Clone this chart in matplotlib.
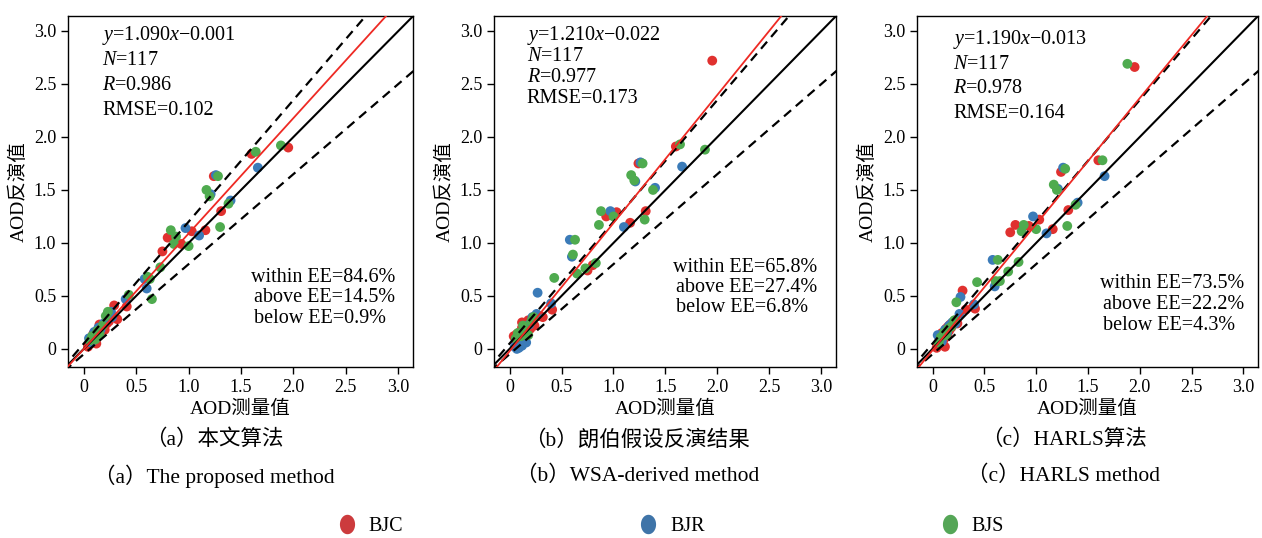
import matplotlib
matplotlib.use("Agg")
import matplotlib.pyplot as plt
from matplotlib.lines import Line2D
import numpy as np

plt.rcParams["font.family"] = ["Liberation Serif", "Noto Sans CJK SC"]
plt.rcParams["mathtext.fontset"] = "custom"
plt.rcParams["mathtext.rm"] = "Liberation Serif"
plt.rcParams["mathtext.it"] = "Liberation Serif:italic"

SITES = ["BJC", "BJR", "BJS"]
COLORS = ["#e0312f", "#3b7bb8", "#4fab4f"]
LEG_COLORS = ["#cc3b3d", "#3f74a8", "#55a657"]

# measured AOD per site (same for every panel), then retrieved AOD per panel (a, b, c)
bjc_x = [1.95, 1.60, 1.24, 1.31, 1.16, 1.03, 0.93, 0.80, 0.75, 0.41, 0.29, 0.32,
         0.04, 0.06, 0.07, 0.08, 0.09, 0.10, 0.11, 0.12, 0.13, 0.14, 0.15, 0.16,
         0.17, 0.18, 0.20, 0.22, 0.24, 0.09, 0.12, 0.15]
bjc_a = [1.90, 1.84, 1.63, 1.30, 1.12, 1.11, 0.99, 1.05, 0.92, 0.40, 0.41, 0.28,
         0.02, 0.05, 0.09, 0.06, 0.12, 0.08, 0.15, 0.11, 0.17, 0.13, 0.19, 0.16,
         0.20, 0.22, 0.18, 0.24, 0.26, 0.14, 0.05, 0.23]
bjc_b = [2.72, 1.91, 1.75, 1.30, 1.19, 1.29, 1.25, 0.79, 0.74, 0.37, 0.31, 0.30,
         0.12, 0.08, 0.14, 0.05, 0.10, 0.16, 0.12, 0.20, 0.09, 0.18, 0.24, 0.14,
         0.21, 0.27, 0.19, 0.28, 0.22, 0.03, 0.25, 0.11]
bjc_c = [2.66, 1.78, 1.67, 1.31, 1.13, 1.22, 1.16, 1.17, 1.10, 0.38, 0.55, 0.37,
         0.01, 0.04, 0.08, 0.11, 0.06, 0.13, 0.09, 0.16, 0.19, 0.12, 0.21, 0.17,
         0.23, 0.20, 0.25, 0.27, 0.24, 0.15, 0.02, 0.18]

bjr_x = [1.66, 1.26, 1.21, 1.40, 1.10, 0.97, 0.58, 0.60, 0.40, 0.26, 0.27,
         0.05, 0.07, 0.09, 0.10, 0.12, 0.14, 0.16, 0.19, 0.22]
bjr_a = [1.71, 1.64, 1.46, 1.40, 1.07, 1.14, 0.66, 0.57, 0.47, 0.35, 0.30,
         0.10, 0.06, 0.13, 0.16, 0.11, 0.20, 0.18, 0.24, 0.27]
bjr_b = [1.72, 1.76, 1.58, 1.52, 1.15, 1.30, 1.03, 0.87, 0.43, 0.33, 0.53,
         0.02, 0.00, 0.01, 0.04, 0.03, 0.08, 0.06, 0.23, 0.30]
bjr_c = [1.63, 1.71, 1.51, 1.38, 1.09, 1.25, 0.84, 0.59, 0.42, 0.33, 0.49,
         0.13, 0.10, 0.07, 0.14, 0.18, 0.15, 0.22, 0.25, 0.24]

bjs_x = [1.64, 1.88, 1.28, 1.17, 1.20, 1.38, 1.30, 1.00, 0.86, 0.88, 0.83, 0.73,
         0.61, 0.63, 0.65, 0.43, 0.23, 0.06, 0.08, 0.11, 0.13, 0.15, 0.18, 0.21]
bjs_a = [1.86, 1.92, 1.63, 1.50, 1.44, 1.37, 1.15, 0.97, 0.99, 1.06, 1.12, 0.77,
         0.68, 0.66, 0.47, 0.51, 0.35, 0.08, 0.12, 0.09, 0.17, 0.14, 0.22, 0.31]
bjs_b = [1.93, 1.88, 1.75, 1.64, 1.59, 1.50, 1.22, 1.25, 1.17, 1.30, 0.81, 0.76,
         0.89, 1.03, 0.71, 0.67, 0.30, 0.10, 0.15, 0.12, 0.22, 0.18, 0.13, 0.26]
bjs_c = [1.78, 2.69, 1.70, 1.55, 1.50, 1.36, 1.16, 1.13, 1.11, 1.17, 0.82, 0.73,
         0.64, 0.84, 0.64, 0.63, 0.44, 0.06, 0.11, 0.15, 0.13, 0.19, 0.21, 0.27]

slopes = [1.090, 1.210, 1.190]
intercepts = [-0.001, -0.022, -0.013]
r_vals = ["0.986", "0.977", "0.978"]
rmse_vals = ["0.102", "0.173", "0.164"]
n_vals = [117, 117, 117]
within = ["84.6", "65.8", "73.5"]
above = ["14.5", "27.4", "22.2"]
below = ["0.9", "6.8", "4.3"]
captions_cn = ["（a）本文算法", "（b）朗伯假设反演结果", "（c）HARLS算法"]
captions_en = ["（a）The proposed method", "（b）WSA-derived method", "（c）HARLS method"]
ticks = [0, 0.5, 1.0, 1.5, 2.0, 2.5, 3.0]
tick_labels = ["0", "0.5", "1.0", "1.5", "2.0", "2.5", "3.0"]

retrieved = [[bjc_a, bjr_a, bjs_a], [bjc_b, bjr_b, bjs_b], [bjc_c, bjr_c, bjs_c]]
measured = [bjc_x, bjr_x, bjs_x]

fig = plt.figure(figsize=(12.62, 5.38), dpi=100)
lefts = [0.0539, 0.3914, 0.7266]
widths = [0.2734, 0.2710, 0.2702]
cap_x = [0.170, 0.505, 0.843]
# text placement (axes fraction): first-line centre, line step, left edge
tl_y = [0.946, 0.946, 0.932]
tl_step = [0.0712, 0.0598, 0.0698]
tl_x = [0.099, 0.096, 0.106]
ee_y = [0.256, 0.282, 0.239]
ee_step = [0.0584, 0.0556, 0.0598]
ee_x = [0.530, 0.523, 0.537]

xx = np.array([-0.3, 3.3])
dash = (0, (4.2, 2.8))
for i in range(3):
    ax = fig.add_axes([lefts[i], 0.318, widths[i], 0.652])
    for s in range(3):
        ax.scatter(measured[s], retrieved[i][s], s=50, color=COLORS[s],
                   edgecolors="none", zorder=2)
    ax.plot(xx, xx, color="black", lw=1.5, zorder=3)
    ax.plot(xx, 1.15 * xx + 0.05, color="black", lw=1.6, ls=dash, zorder=3)
    ax.plot(xx, 0.85 * xx - 0.05, color="black", lw=1.6, ls=dash, zorder=3)
    ax.plot(xx, slopes[i] * xx + intercepts[i], color="#ee2a24", lw=1.3, zorder=3)
    ax.set_xlim(-0.15, 3.14)
    ax.set_ylim(-0.17, 3.14)
    ax.set_xticks(ticks)
    ax.set_xticklabels(tick_labels)
    ax.set_yticks(ticks)
    ax.set_yticklabels(tick_labels)
    ax.tick_params(labelsize=13, direction="out", length=5, width=1)
    for sp in ax.spines.values():
        sp.set_linewidth(1.0)
    ax.set_xlabel("AOD测量值", fontsize=14, labelpad=3)
    ax.set_ylabel("AOD反演值", fontsize=14, labelpad=4)

    b = intercepts[i]
    sign = "−" if b < 0 else "+"
    lines = ["$y$=%.3f$x$%s%.3f" % (slopes[i], sign, abs(b)),
             "$N$=%d" % n_vals[i],
             "$R$=%s" % r_vals[i],
             "RMSE=%s" % rmse_vals[i]]
    for k, t in enumerate(lines):
        ax.text(tl_x[i], tl_y[i] - k * tl_step[i], t, transform=ax.transAxes,
                fontsize=14.5, va="center", ha="left")
    ee = ["within EE=%s%%" % within[i],
          "above EE=%s%%" % above[i],
          "below EE=%s%%" % below[i]]
    for k, t in enumerate(ee):
        ax.text(ee_x[i] + (0.008 if k else 0), ee_y[i] - k * ee_step[i], t,
                transform=ax.transAxes, fontsize=14.5, va="center", ha="left")

    fig.text(cap_x[i], 0.182, captions_cn[i], fontsize=15.5, ha="center", va="center")
    fig.text(cap_x[i], 0.115, captions_en[i], fontsize=15.5, ha="center", va="center")

t = np.linspace(0, 2 * np.pi, 40)
ellipse = list(zip(0.78 * np.cos(t), np.sin(t)))
handles = [Line2D([], [], ls="none", marker=ellipse, markersize=14,
                  markerfacecolor=c, markeredgecolor="none") for c in LEG_COLORS]
fig.legend(handles, SITES, loc="center", bbox_to_anchor=(0.532, 0.022), ncol=3,
           frameon=False, fontsize=14.5, handlelength=0.8, handletextpad=0.7,
           columnspacing=11.75)

fig.savefig("out.png", dpi=100)
